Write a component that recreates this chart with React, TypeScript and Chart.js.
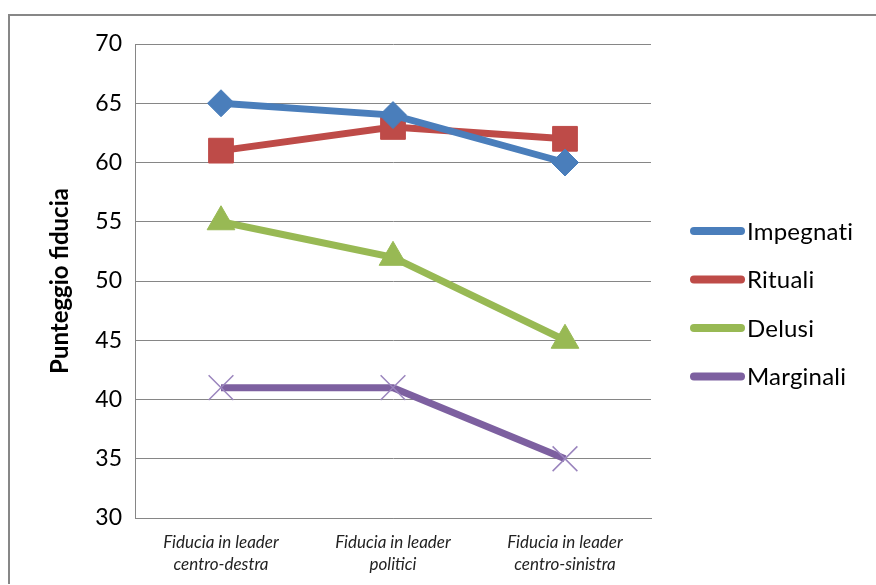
import React, { useEffect, useRef } from "react";
import { Chart, registerables } from "chart.js";
import { drawPoint } from "chart.js/helpers";

Chart.register(...registerables);

const categories: string[][] = [
  ["Fiducia in leader", "centro-destra"],
  ["Fiducia in leader", "politici"],
  ["Fiducia in leader", "centro-sinistra"],
];
const seriesNames = ["Impegnati", "Rituali", "Delusi", "Marginali"];
const impegnati = [65, 64, 60];
const rituali = [61, 63, 62];
const delusi = [55, 52, 45];
const marginali = [41, 41, 35];
const yMin = 30;
const yMax = 70;
const yStep = 5;
const yTitle = "Punteggio fiducia";

const FONT = "Lato, 'Open Sans', sans-serif";

const legendPlugin = {
  id: "customLegend",
  afterDraw(chart: any) {
    const { ctx, chartArea } = chart;
    const x0 = chartArea.right + 39;
    const x1 = x0 + 55;
    let y = chartArea.top + 187;
    chart.data.datasets.forEach((ds: any) => {
      ctx.save();
      ctx.strokeStyle = ds.borderColor;
      ctx.lineWidth = 8;
      ctx.lineCap = "round";
      ctx.beginPath();
      ctx.moveTo(x0 + 4, y);
      ctx.lineTo(x1 - 4, y);
      ctx.stroke();
      ctx.fillStyle = ds.pointBackgroundColor;
      ctx.strokeStyle = ds.pointBorderColor;
      ctx.lineWidth = ds.pointBorderWidth;
      drawPoint(ctx, { pointStyle: ds.pointStyle, rotation: 0, borderWidth: ds.pointBorderWidth }, (x0 + x1) / 2, y);
      ctx.fillStyle = "#000";
      ctx.font = `24px ${FONT}`;
      (ctx as any).letterSpacing = "0.2px";
      ctx.textBaseline = "middle";
      ctx.textAlign = "left";
      ctx.fillText(ds.label, x1 + 2, y + 1);
      ctx.restore();
      y += 48.5;
    });
  },
};

export default function App() {
  const ref = useRef<HTMLCanvasElement | null>(null);
  useEffect(() => {
    if (!ref.current) return;
    const mk = (label: string, data: number[], color: string, style: string, r: number, pbg: string, pbc: string, pbw: number) => ({
      label,
      data,
      borderColor: color,
      backgroundColor: color,
      borderWidth: 7,
      pointStyle: style,
      pointRadius: r,
      pointHoverRadius: r,
      pointBackgroundColor: pbg,
      pointBorderColor: pbc,
      pointBorderWidth: pbw,
      tension: 0,
    });
    const chart = new Chart(ref.current, {
      type: "line",
      data: {
        labels: categories,
        datasets: [
          mk(seriesNames[0], impegnati, "#4a7ebb", "rectRot", 13.5, "#4a7ebb", "#4a7ebb", 1),
          mk(seriesNames[1], rituali, "#be4b48", "rect", 17.5, "#be4b48", "#be4b48", 1),
          mk(seriesNames[2], delusi, "#98b954", "triangle", 16, "#98b954", "#98b954", 1),
          mk(seriesNames[3], marginali, "#7d60a0", "crossRot", 17.5, "#9a84bd", "#9a84bd", 1.5),
        ] as any,
      },
      options: {
        animation: false,
        responsive: false,
        maintainAspectRatio: false,
        layout: { padding: { left: 0, right: 225, top: 28, bottom: 0 } },
        plugins: { legend: { display: false }, tooltip: { enabled: false } },
        scales: {
          x: {
            offset: true,
            grid: { display: false, drawTicks: false },
            border: { display: true, color: "#868686", width: 1 },
            ticks: {
              color: "#222",
              padding: 14,
              maxRotation: 0,
              autoSkip: false,
              font: { family: FONT, size: 17, style: "italic", lineHeight: "22px" } as any,
            },
            afterFit: (s: any) => {
              s.height = 66;
            },
          },
          y: {
            min: yMin,
            max: yMax,
            ticks: {
              stepSize: yStep,
              color: "#000",
              padding: 13,
              font: { family: FONT, size: 23 },
            },
            grid: { color: "#868686", lineWidth: 1, drawTicks: false },
            border: { display: true, color: "#868686", width: 1 },
            title: {
              display: true,
              text: yTitle,
              color: "#000",
              font: { family: FONT, size: 24, weight: "bold" },
              padding: { top: 36, bottom: 0 },
            },
            afterFit: (s: any) => {
              s.width = 125;
            },
          },
        },
      },
      plugins: [legendPlugin],
    });
    return () => chart.destroy();
  }, []);
  return (
    <div style={{ position: "absolute", left: 8, top: 14, borderTop: "2px solid #878787", borderLeft: "2px solid #878787", background: "#fff" }}>
      <canvas ref={ref} width={866} height={568} style={{ display: "block", width: 866, height: 568 }} />
    </div>
  );
}
